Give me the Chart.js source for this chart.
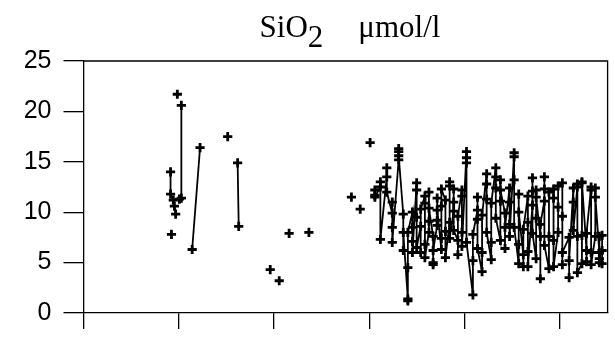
<!DOCTYPE html>
<html>
<head>
<meta charset="utf-8">
<script src="https://cdn.jsdelivr.net/npm/chart.js@4/dist/chart.umd.min.js"></script>
<style>
  html, body { margin: 0; padding: 0; background: #fff; }
</style>
</head>
<body>
<canvas id="c" width="615" height="340"></canvas>
<script>
// x: weeks since start of record (ticks every 52 weeks); null value = gap in line
const earlyWeeks  = [47.5, 47.5, 49, 49.6, 50.3, 50.3, 48, 48, 51.2, 51.2, 52.3, 53.4, 53.4, 53.4,
                     59.3, 63.6, 63.6, 78.7, 78.7, 84.1, 84.7, 84.7, 101.9, 101.9, 106.8, 106.8,
                     112.2, 112.2, 123, 123, 146.2, 146.2, 151, 151, 156.4, 156.4];
const earlyValues = [14.0, 11.8, 11.2, 10.6, 9.8, null, 7.8, null, 21.7, null, 11.3, 11.4, 20.6, null,
                     6.3, 16.4, null, 17.5, null, 14.9, 8.6, null, 4.3, null, 3.2, null,
                     7.9, null, 8.0, null, 11.5, null, 10.3, null, 16.9, null];

// later period: one sampling week, several depth values per sampling
const sampleWeeks = [159, 162, 165.5, 168.5, 172, 174.5, 177, 179.5, 181.8, 184, 186.3, 188.5, 190.8,
                     193, 195.3, 197.5, 199.8, 202, 204.3, 206.5, 209, 212.5, 215, 217.5, 220, 222.5,
                     225, 227.5, 230, 232.5, 235, 237.5, 240, 242.5, 245, 247, 249.3, 251.5, 254, 256.5,
                     259, 261.3, 265, 267.3, 269.5, 272, 274.5, 277, 279.3, 281.5, 283];
const profiles = [
  [11.7, 12.2, 11.5], [12.5, 13.0, 7.3], [13.5, 14.4, 12.0], [9.9, 8.5, 11.0, 7.0],
  [15.2, 16.0, 16.3, 15.6], [9.8, 6.2, 8.0], [1.4, 1.2, 4.5, 8.0], [10.0, 7.1, 8.5, 6.0],
  [12.9, 12.2, 9.5, 6.5], [8.6, 6.0, 10.3], [11.6, 10.9, 6.8, 5.5], [8.0, 9.1, 12.0, 10.4],
  [7.6, 5.0, 4.8, 6.2], [8.7, 11.4, 9.2, 10.2], [6.3, 7.4, 10.6, 12.3], [11.2, 8.1, 5.5],
  [9.0, 13.0, 12.6, 7.4], [10.1, 12.3, 11.0, 8.2], [7.2, 5.8, 9.6], [12.2, 11.6, 8.0, 6.6],
  [16.0, 15.4, 14.9, 7.0], [1.8, 5.2, 7.8], [10.2, 11.5, 9.3, 6.4], [4.1, 6.0, 9.7],
  [13.8, 12.8, 11.3, 8.0], [5.3, 7.0, 10.9], [14.4, 13.5, 12.4, 9.4], [7.2, 11.1, 13.2, 12.2],
  [9.9, 6.4, 8.5], [12.4, 11.0, 8.8, 7.6], [15.9, 15.5, 13.2, 8.5], [4.9, 6.8, 11.8, 10.0],
  [5.8, 4.6, 8.3], [11.6, 9.0, 6.1, 4.6], [10.7, 13.4, 12.1, 7.9], [5.4, 9.4, 12.2, 11.5],
  [7.6, 3.4, 8.8], [11.1, 13.5, 12.3, 6.7], [4.4, 7.6, 12.0], [12.3, 11.4, 7.2, 4.6],
  [8.0, 10.5, 12.6], [12.9, 9.6, 4.8, 6.0], [7.5, 3.5, 5.2], [12.4, 11.0, 8.2],
  [12.5, 12.8, 7.6, 4.0], [4.9, 7.7, 12.9, 13.0], [6.2, 5.1, 7.9], [12.5, 12.2, 6.0, 4.8],
  [7.6, 12.4, 11.5], [6.0, 5.0, 5.4, 7.6], [7.7, 6.2, 4.9]
];

const yTicks = [0, 5, 10, 15, 20, 25];
const xTicks = [0, 52, 104, 156, 208, 260];
const titleMain = 'SiO';
const titleSub = '2';
const titleUnit = 'μmol/l';

const points = earlyWeeks.map((w, i) => ({ x: w, y: earlyValues[i] }));
sampleWeeks.forEach((w, i) => profiles[i].forEach(v => points.push({ x: w, y: v })));

const frame = {
  id: 'frame',
  afterDraw(chart) {
    const a = chart.chartArea, ctx = chart.ctx;
    ctx.save();
    ctx.strokeStyle = '#000';
    ctx.lineWidth = 1.3;
    ctx.beginPath();
    ctx.moveTo(a.left, a.top); ctx.lineTo(a.right, a.top); ctx.lineTo(a.right, a.bottom);
    ctx.stroke();
    // title with subscript
    ctx.fillStyle = '#000';
    ctx.font = '31px "Liberation Serif", "Times New Roman", serif';
    ctx.textBaseline = 'alphabetic';
    ctx.textAlign = 'left';
    const gap = 35;
    const w1 = ctx.measureText(titleMain).width;
    const w2 = ctx.measureText(titleSub).width;
    const w3 = ctx.measureText(titleUnit).width;
    const total = w1 + w2 + gap + w3;
    let x = 350 - total / 2;
    const base = 37;
    ctx.fillText(titleMain, x, base); x += w1;
    ctx.fillText(titleSub, x, base + 9.5); x += w2 + gap;
    ctx.fillText(titleUnit, x, base);
    ctx.restore();
  }
};

new Chart(document.getElementById('c'), {
  type: 'line',
  data: {
    datasets: [{
      data: points,
      borderColor: '#000',
      borderWidth: 1.8,
      pointStyle: 'cross',
      pointRadius: 4.6,
      pointBorderWidth: 2.8,
      pointBorderColor: '#000',
      pointBackgroundColor: '#000',
      spanGaps: false,
      tension: 0
    }]
  },
  options: {
    responsive: false,
    animation: false,
    devicePixelRatio: 1,
    layout: { padding: { top: 61, right: 2, left: 0, bottom: 0 } },
    plugins: { legend: { display: false }, title: { display: false }, tooltip: { enabled: false } },
    scales: {
      x: {
        type: 'linear', min: 0, max: 286,
        afterFit(s) { s.height = 15; },
        afterBuildTicks(s) { s.ticks = xTicks.map(v => ({ value: v })); },
        ticks: { display: false },
        grid: { drawOnChartArea: false, drawTicks: true, tickLength: 16, color: '#000', lineWidth: 1.3 },
        border: { display: true, color: '#000', width: 1.3 }
      },
      y: {
        min: 0, max: 25,
        afterFit(s) { s.width = 83.5; },
        afterBuildTicks(s) { s.ticks = yTicks.map(v => ({ value: v })); },
        ticks: { color: '#000', padding: 12, font: { family: 'Liberation Sans', size: 25 } },
        grid: { drawOnChartArea: false, drawTicks: true, tickLength: 20, color: '#000', lineWidth: 1.3 },
        border: { display: true, color: '#000', width: 1.3 }
      }
    }
  },
  plugins: [frame]
});
</script>
</body>
</html>
